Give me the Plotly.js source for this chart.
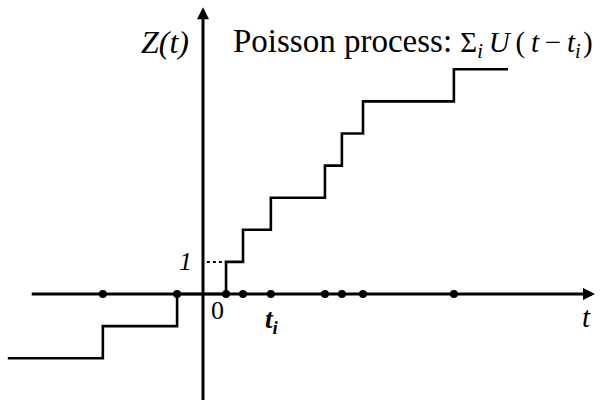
<!DOCTYPE html>
<html>
<head>
<meta charset="utf-8">
<script src="https://cdn.plot.ly/plotly-3.0.1.min.js"></script>
<style>
  html, body { margin: 0; padding: 0; background: #fff; }
  #chart { width: 600px; height: 400px; }
</style>
</head>
<body>
<div id="chart"></div>
<script>
// Arrival times t_i of the Poisson process (horizontal axis units)
const arrivalTimes = [-3.13, -0.81, 0.72, 1.25, 2.12, 3.81, 4.34, 5.0, 7.84];
// Counting value Z(t) right after each arrival
const countLevels = [-1, 0, 1, 2, 3, 4, 5, 6, 7];
// Value before the first arrival and the plotted time span
const startLevel = -2;
const timeStart = -6.1;
const timeEnd = 9.53;
// Axis extents (time axis and Z axis)
const tAxisFrom = -5.4, tAxisTo = 12.25;
const zAxisFrom = -3.4, zAxisTo = 8.93;

// Step path: Z(t) = sum_i U(t - t_i), offset by the starting level
const stepX = [timeStart].concat(arrivalTimes, [timeEnd]);
const stepY = [startLevel].concat(countLevels, [countLevels[countLevels.length - 1]]);

const stepTrace = {
  x: stepX, y: stepY, mode: 'lines', type: 'scatter',
  line: { shape: 'hv', color: '#000', width: 2.6 },
  hoverinfo: 'skip', showlegend: false
};

// Arrival markers on the time axis
const dotTrace = {
  x: arrivalTimes, y: arrivalTimes.map(() => 0), mode: 'markers', type: 'scatter',
  marker: { color: '#000', size: 8 },
  hoverinfo: 'skip', showlegend: false
};

// Dotted guide from the Z axis to the first step at level 1
const guideTrace = {
  x: [0.12, arrivalTimes[2]], y: [1, 1], mode: 'lines', type: 'scatter',
  line: { color: '#000', width: 2, dash: 'dot' },
  hoverinfo: 'skip', showlegend: false
};

const serif = "'Liberation Serif'";
const thin = '\u2009', hair = '\u200A'; // narrow spaces inside the formula

const formula = '<span style="font-size:29px">\u03A3<sub><i>i</i></sub>' + thin + '<i>U</i>' + thin + '(' + thin +
  '<i>t</i>' + thin + '\u2212' + thin + '<i>t</i><sub><i>i</i></sub>' + hair + ')</span>';

const layout = {
  width: 600, height: 400,
  margin: { l: 0, r: 0, t: 0, b: 0 },
  paper_bgcolor: '#fff', plot_bgcolor: '#fff',
  font: { family: serif, color: '#000' },
  xaxis: { range: [-6.344, 12.406], visible: false, fixedrange: true },
  yaxis: { range: [-3.302, 9.159], visible: false, fixedrange: true },
  showlegend: false,
  annotations: [
    // time axis with arrow
    { x: tAxisTo, y: 0, ax: tAxisFrom, ay: 0, xref: 'x', yref: 'y', axref: 'x', ayref: 'y',
      text: '', showarrow: true, arrowhead: 2, arrowsize: 0.8, arrowwidth: 3, arrowcolor: '#000' },
    // Z axis with arrow
    { x: 0, y: zAxisTo, ax: 0, ay: zAxisFrom, xref: 'x', yref: 'y', axref: 'x', ayref: 'y',
      text: '', showarrow: true, arrowhead: 2, arrowsize: 0.8, arrowwidth: 3, arrowcolor: '#000' },
    { x: -1.19, y: 7.85, xref: 'x', yref: 'y', text: '<i>Z(t)</i>', showarrow: false,
      font: { family: serif, size: 32, color: '#000' } },
    { x: 0.88, y: 7.85, xref: 'x', yref: 'y', xanchor: 'left',
      text: 'Poisson process: ' + formula,
      showarrow: false, font: { family: serif, size: 33, color: '#000' } },
    { x: -0.55, y: 1, xref: 'x', yref: 'y', text: '<i>1</i>', showarrow: false,
      font: { family: serif, size: 26, color: '#000' } },
    { x: 0.45, y: -0.5, xref: 'x', yref: 'y', text: '0', showarrow: false,
      font: { family: serif, size: 26, color: '#000' } },
    { x: 2.17, y: -0.85, xref: 'x', yref: 'y', text: '<b><i>t<sub>i</sub></i></b>', showarrow: false,
      font: { family: serif, size: 27, color: '#000' } },
    { x: 11.98, y: -0.72, xref: 'x', yref: 'y', text: '<i>t</i>', showarrow: false,
      font: { family: serif, size: 29, color: '#000' } }
  ]
};

Plotly.newPlot('chart', [stepTrace, guideTrace, dotTrace], layout, { displayModeBar: false, staticPlot: true });
</script>
</body>
</html>
